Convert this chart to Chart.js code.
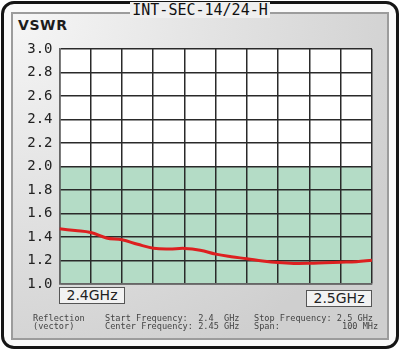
<!DOCTYPE html>
<html>
<head>
<meta charset="utf-8">
<script src="https://cdn.jsdelivr.net/npm/chart.js@4"></script>
<style>
  html, body { margin: 0; padding: 0; background: #fff; }
  #wrap { position: relative; width: 400px; height: 351px; overflow: hidden; font-family: "DejaVu Sans Mono", monospace; }
  #outer { position: absolute; left: 1px; top: 1px; width: 398px; height: 348px; box-sizing: border-box;
           border: 3px solid #151515; border-radius: 13px; background: #fafafa; }
  #panel { position: absolute; left: 11px; top: 12px; width: 378px; height: 328px; box-sizing: border-box;
           border: 2px solid #9c9c9c;
           background: radial-gradient(ellipse 420px 380px at 0% 0%, #f6f6f6 0%, #e4e4e4 45%, #cfcfcf 100%); }
  #chartBox { position: absolute; left: 0; top: 0; width: 400px; height: 351px; }
  .title { position: absolute; left: 130px; top: 2px; width: 140px; text-align: center; background: #efefef;
           font-size: 15px; line-height: 16px; color: #111; }
  .vswr { position: absolute; left: 18px; top: 17px; font-family: "DejaVu Sans", sans-serif; font-weight: bold;
          font-size: 14px; letter-spacing: 0.6px; color: #1c1c1c; }
  .fbox { position: absolute; width: 66px; height: 17px; box-sizing: border-box; border: 1px solid #555;
          background: #f2f2f2; font-family: "DejaVu Sans", sans-serif; font-size: 14px; line-height: 15px;
          text-align: center; color: #222; }
  .foot { position: absolute; font-size: 8.6px; line-height: 8px; color: #444; white-space: pre; }
</style>
</head>
<body>
<div id="wrap">
  <div id="outer"></div>
  <div id="panel"></div>
  <div class="title">INT-SEC-14/24-H</div>
  <div class="vswr">VSWR</div>
  <div id="chartBox"><canvas id="vswrChart" width="400" height="351"></canvas></div>
  <div class="fbox" style="left:59px; top:287px;">2.4GHz</div>
  <div class="fbox" style="left:306px; top:290px;">2.5GHz</div>
  <div class="foot" style="left:33px; top:314px;">Reflection
(vector)</div>
  <div class="foot" style="left:105px; top:314px;">Start Frequency:  2.4  GHz
Center Frequency: 2.45 GHz</div>
  <div class="foot" style="left:254px; top:314px;">Stop Frequency: 2.5 GHz
Span:            100 MHz</div>
</div>
<script>
// Donnees
const freqGHz = [2.400, 2.405, 2.410, 2.415, 2.420, 2.425, 2.430, 2.435, 2.440, 2.445, 2.450,
                 2.455, 2.460, 2.465, 2.470, 2.475, 2.480, 2.485, 2.490, 2.495, 2.500];
const vswrValues = [1.47, 1.455, 1.438, 1.392, 1.376, 1.338, 1.305, 1.298, 1.303, 1.288, 1.254,
                    1.232, 1.215, 1.196, 1.182, 1.175, 1.176, 1.181, 1.185, 1.19, 1.203];
const yTicks = [1.0, 1.2, 1.4, 1.6, 1.8, 2.0, 2.2, 2.4, 2.6, 2.8, 3.0];
const vswrLimit = 2.0;

// Bande verte sous la limite, dessinee avant la grille
const bandPlugin = {
    id: "band",
    beforeDraw(chart) {
        const { ctx, chartArea, scales } = chart;
        const yTop = scales.y.getPixelForValue(vswrLimit);
        const yBot = scales.y.getPixelForValue(yTicks[0]);
        ctx.save();
        ctx.fillStyle = "#ffffff";
        ctx.fillRect(chartArea.left, chartArea.top, chartArea.right - chartArea.left, chartArea.bottom - chartArea.top);
        ctx.fillStyle = "#b4dcc6";
        ctx.fillRect(chartArea.left, yTop, chartArea.right - chartArea.left, yBot - yTop);
        ctx.restore();
    }
};

const ctx = document.getElementById("vswrChart").getContext("2d");
new Chart(ctx, {
    type: "line",
    data: {
        datasets: [{
            data: freqGHz.map((f, i) => ({ x: f, y: vswrValues[i] })),
            borderColor: "#dd2020",
            borderWidth: 3,
            pointRadius: 0,
            tension: 0.4,
            fill: false
        }]
    },
    options: {
        responsive: false,
        animation: false,
        layout: { padding: { left: 0, right: 28, top: 49, bottom: 67 } },
        plugins: { legend: { display: false }, tooltip: { enabled: false } },
        scales: {
            x: {
                type: "linear",
                min: 2.4,
                max: 2.5,
                ticks: { display: false, stepSize: 0.01 },
                grid: { color: "#2a2a2a", lineWidth: 1.5, drawTicks: false },
                border: { color: "#666", width: 1.5 }
            },
            y: {
                min: 1.0,
                max: 3.0,
                afterFit(scale) { scale.width = 59.5; },
                afterBuildTicks(scale) { scale.ticks = yTicks.map(v => ({ value: v })); },
                ticks: {
                    padding: 7,
                    color: "#222",
                    font: { family: "DejaVu Sans Mono", size: 14 },
                    callback: v => v.toFixed(1)
                },
                grid: { color: "#2a2a2a", lineWidth: 1.5, drawTicks: false },
                border: { color: "#666", width: 1.5 }
            }
        }
    },
    plugins: [bandPlugin]
});
</script>
</body>
</html>
